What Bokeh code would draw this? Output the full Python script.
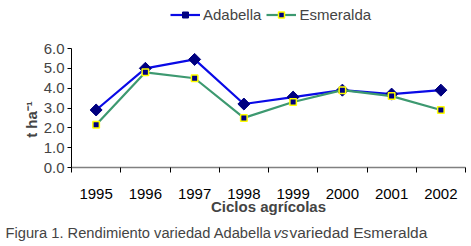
import math
from bokeh.plotting import figure
from bokeh.models import FixedTicker, Legend, LegendItem, Label, Range1d
from bokeh.embed import file_html
from bokeh.resources import INLINE

years = ["1995", "1996", "1997", "1998", "1999", "2000", "2001", "2002"]
adabella = [2.9, 5.0, 5.45, 3.2, 3.55, 3.9, 3.7, 3.9]
esmeralda = [2.15, 4.8, 4.5, 2.5, 3.3, 3.9, 3.6, 2.9]
y_ticks = [0, 1, 2, 3, 4, 5, 6]

xpos = [i + 0.5 for i in range(len(years))]
bounds = list(range(len(years) + 1))

FONT = "Liberation Sans"
W, H = 471, 246
# plot area in canvas pixels: x 71..465, y 48 (top value) .. 167 (zero)
PX_L, PX_R, PX_T, PX_B = 71, 465, 48, 167
ux = (PX_R - PX_L) / len(years)
uy = (PX_B - PX_T) / y_ticks[-1]

p = figure(width=W, height=H,
           x_range=Range1d(-PX_L / ux, len(years) + (W - PX_R) / ux),
           y_range=Range1d(-(H - PX_B) / uy, y_ticks[-1] + PX_T / uy),
           output_backend="svg", toolbar_location=None,
           min_border_left=0, min_border_right=0, min_border_top=0, min_border_bottom=0)
p.outline_line_color = None
p.xgrid.visible = False
p.ygrid.visible = False
p.background_fill_color = "white"
p.border_fill_color = "white"

# x axis
xa = p.xaxis[0]
xa.fixed_location = 0
xa.bounds = (bounds[0], bounds[-1])
xa.ticker = FixedTicker(ticks=xpos, minor_ticks=bounds)
xa.major_label_overrides = {x: y for x, y in zip(xpos, years)}
xa.major_tick_line_color = None
xa.minor_tick_line_color = "black"
xa.minor_tick_out = 5
xa.minor_tick_in = 0
xa.axis_line_color = "#808080"
xa.axis_line_width = 1.5
xa.major_label_text_font = FONT
xa.major_label_text_font_size = "15px"
xa.major_label_text_color = "black"
xa.major_label_standoff = 15
xa.axis_label = "Ciclos agrícolas"
xa.axis_label_text_font = FONT
xa.axis_label_text_font_style = "bold"
xa.axis_label_text_font_size = "15px"
xa.axis_label_standoff = -4

ya = p.yaxis[0]
ya.fixed_location = 0
ya.ticker = FixedTicker(ticks=y_ticks)
ya.bounds = (y_ticks[0], y_ticks[-1])
ya.major_label_overrides = {t: f"{t:.1f}" for t in y_ticks}
ya.minor_tick_line_color = None
ya.major_tick_out = 4
ya.major_tick_in = 0
ya.axis_line_color = "black"
ya.major_label_text_font = FONT
ya.major_label_text_font_size = "15px"
ya.major_label_standoff = 3

# y axis title, centred on the plot area as in the original
p.add_layout(Label(x=31, y=119, x_units="canvas", y_units="canvas", angle=math.pi / 2,
                   text="t ha⁻¹", text_font=FONT, text_font_style="bold",
                   text_font_size="15px", text_align="center", text_baseline="alphabetic"))

l1 = p.line(xpos, adabella, line_color="#0a0ae6", line_width=2.2)
s1 = p.scatter(xpos, adabella, marker="square", angle=math.pi / 4, size=8.5,
               fill_color="#000080", line_color="#000080")
l2 = p.line(xpos, esmeralda, line_color="#3d9970", line_width=2.2)
s2 = p.scatter(xpos, esmeralda, marker="square", size=6.5, fill_color="#000080",
               line_color="#ffff00", line_width=1.5)

legend = Legend(items=[LegendItem(label="Adabella", renderers=[l1, s1]),
                       LegendItem(label="Esmeralda", renderers=[l2, s2])],
                orientation="horizontal", location=(170, H - 23),
                border_line_color=None, background_fill_alpha=0,
                label_text_font=FONT, label_text_font_size="15px",
                glyph_width=30, glyph_height=15, label_height=15,
                padding=0, margin=0, spacing=5, label_standoff=3)
p.add_layout(legend, "center")

cap_y = 240
p.add_layout(Label(x=5, y=cap_y, x_units="canvas", y_units="canvas",
                   text="Figura 1. Rendimiento variedad Adabella", text_font=FONT,
                   text_font_size="14.7px"))
p.add_layout(Label(x=273, y=cap_y, x_units="canvas", y_units="canvas",
                   text="vs", text_font=FONT, text_font_style="italic",
                   text_font_size="15px"))
p.add_layout(Label(x=289, y=cap_y, x_units="canvas", y_units="canvas",
                   text="variedad Esmeralda", text_font=FONT,
                   text_font_size="15.5px"))

open("out.html", "w").write(file_html(p, INLINE))
